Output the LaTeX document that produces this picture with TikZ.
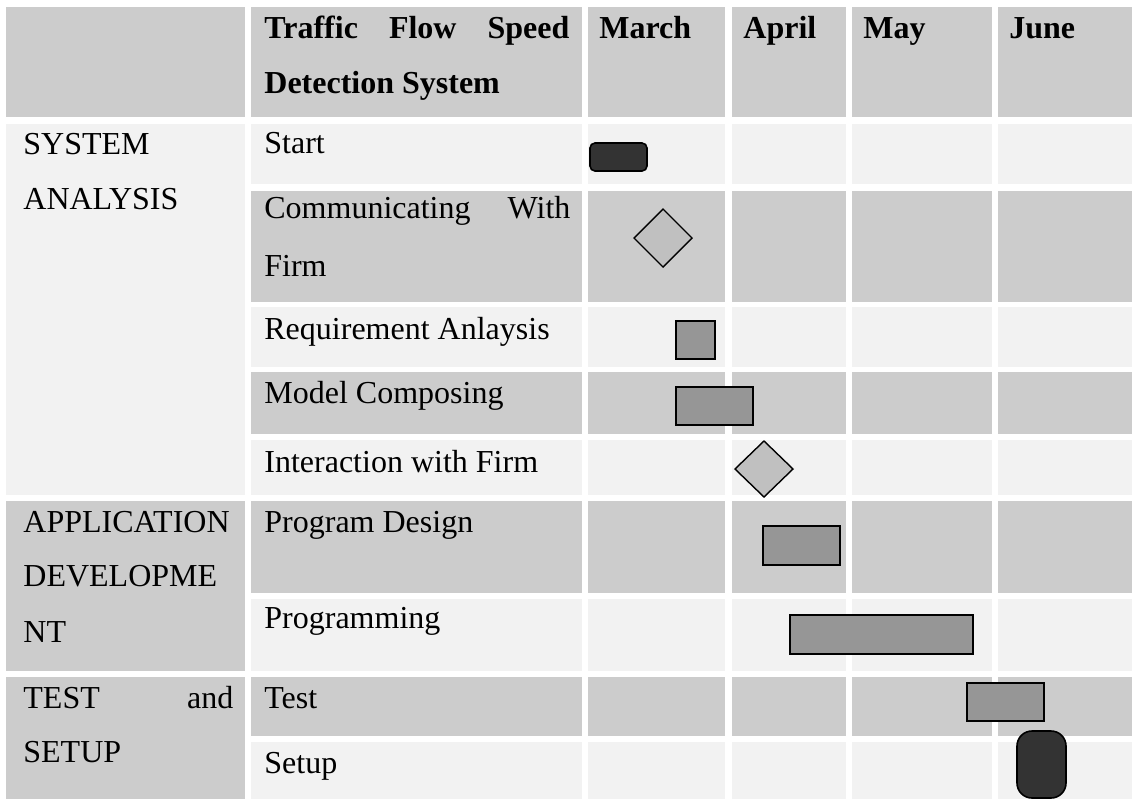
\documentclass[tikz,border=0pt]{standalone}
\usepackage{fontspec}
\setmainfont{Liberation Serif}
\usetikzlibrary{positioning,calc}
\definecolor{cellgrey}{HTML}{CCCCCC}
\definecolor{celllight}{HTML}{F2F2F2}
\definecolor{bargrey}{HTML}{969696}
\definecolor{mstone}{HTML}{C0C0C0}
\definecolor{darkbar}{HTML}{333333}
% one row of cells over the month columns
\newcommand{\cellrow}[3]{%
  \foreach \a/\b in {251/582,588/725,732/846,852/992,998/1132}
    \fill[#3] (\a,#1) rectangle (\b,#2);}

\begin{document}
\begin{tikzpicture}[x=0.5pt,y=-0.5pt,
    txt/.style={anchor=base west,inner sep=0pt,font=\fontsize{16}{27}\selectfont},
    head/.style={txt,font=\fontsize{16}{27}\selectfont\bfseries},
    task/.style={draw=black,line width=0.8pt,fill=bargrey},
    mile/.style={draw=black,line width=0.7pt,fill=mstone},
    startend/.style={draw=black,line width=0.8pt,fill=darkbar}]
    \useasboundingbox (0,0) rectangle (1132,799);

    % Cells
    \cellrow{7}{117}{cellgrey}
    \cellrow{124}{184}{celllight}
    \cellrow{191}{302}{cellgrey}
    \cellrow{307}{367}{celllight}
    \cellrow{372}{434}{cellgrey}
    \cellrow{440}{495}{celllight}
    \cellrow{501}{593}{cellgrey}
    \cellrow{599}{671}{celllight}
    \cellrow{677}{736}{cellgrey}
    \cellrow{742}{799}{celllight}
    \fill[cellgrey] (6,7) rectangle (245,117);
    \fill[celllight] (6,124) rectangle (245,495);
    \fill[cellgrey] (6,501) rectangle (245,671);
    \fill[cellgrey] (6,677) rectangle (245,799);

    % Header
    \node[head] (title1) at (264,38) {\makebox[152.5pt][s]{Traffic Flow Speed}};
    \node[head] (title2) at (264,93) {Detection System};
    \node[head] (march) at (599,38) {March};
    \node[head] (april) at (743,38) {April};
    \node[head] (may) at (863,38) {May};
    \node[head] (june) at (1009,38) {June};

    % Phases
    \node[txt] (sys1) at (23,154) {SYSTEM};
    \node[txt] (sys2) at (23,209) {ANALYSIS};
    \node[txt] (app1) at (23,532) {APPLICATION};
    \node[txt] (app2) at (23,586) {DEVELOPME};
    \node[txt] (app3) at (23,642) {NT};
    \node[txt] (tst1) at (23,708) {\makebox[105pt][s]{TEST and}};
    \node[txt] (tst2) at (23,762) {SETUP};

    % Tasks
    \node[txt] (start) at (264,153) {Start};
    \node[txt] (comm1) at (264,218) {\makebox[153pt][s]{Communicating With}};
    \node[txt] (comm2) at (264,276) {Firm};
    \node[txt] (req) at (264,339) {Requirement Anlaysis};
    \node[txt] (model) at (264,403) {Model Composing};
    \node[txt] (inter) at (264,472) {Interaction with Firm};
    \node[txt] (pdesign) at (264,532) {Program Design};
    \node[txt] (prog) at (264,628) {Programming};
    \node[txt] (test) at (264,708) {Test};
    \node[txt] (setup) at (264,773) {Setup};

    % Bars and milestones
    \draw[startend,rounded corners=2.5pt] (590,143) rectangle (647,171);
    \draw[mile] (634,238) -- (663,209) -- (692,238) -- (663,267) -- cycle;
    \draw[task] (676,321) rectangle (715,359);
    \draw[task] (676,387) rectangle (753,425);
    \draw[mile] (735,469) -- (764,441) -- (793,469) -- (764,497) -- cycle;
    \draw[task] (763,526) rectangle (840,565);
    \draw[task] (790,615) rectangle (973,654);
    \draw[task] (967,683) rectangle (1044,721);
    \draw[startend,rounded corners=7.5pt] (1017,731) rectangle (1066,798);
\end{tikzpicture}
\end{document}
